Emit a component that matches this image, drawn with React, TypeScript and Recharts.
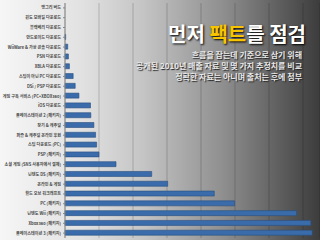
import React from "react";
import { BarChart, Bar, XAxis, YAxis, CartesianGrid } from "recharts";

const categories = [
  "앵그리 버드",
  "윈도 모바일 다운로드",
  "블랙베리 다운로드",
  "안드로이드 다운로드",
  "WiiWare & 가상 콘솔 다운로드",
  "PSN 다운로드",
  "XBLA 다운로드",
  "스팀이 아닌 PC 다운로드",
  "DSi / PSP 다운로드",
  "게임 구독 서비스 (PC+XBOX360)",
  "iOS 다운로드",
  "플레이스테이션 2 (패키지)",
  "장기 & 캐주얼",
  "퍼즐 & 캐주얼 온라인 후원",
  "스팀 다운로드 (PC)",
  "PSP (패키지)",
  "소셜 게임 (SNS 사용자에서 결제)",
  "닌텐도 DS (패키지)",
  "온라인 & 게임",
  "월드 오브 워크래프트",
  "PC (패키지)",
  "닌텐도 Wii (패키지)",
  "Xbox360 (패키지)",
  "플레이스테이션 3 (패키지)",
];

const values = [
  0, 0, 0, 0.02, 0.08, 0.1, 0.13, 0.24, 0.3, 0.41, 0.75, 0.76, 0.85, 0.9,
  0.93, 1.0, 1.5, 2.55, 3.02, 4.39, 4.99, 6.81, 7.23, 7.27,
];

const xTicks = [0, 1, 2, 3, 4, 5, 6, 7];

const data = categories.map((name, i) => ({ name, value: values[i] }));

const CatTick = (props: any) => {
  const { x, y, payload } = props;
  return (
    <text
      x={x}
      y={y}
      dy={1.5}
      textAnchor="end"
      fontSize={4.1}
      fontWeight={700}
      fill="#4a4a4a"
      fontFamily="'Noto Sans CJK KR', sans-serif"
    >
      {payload.value}
    </text>
  );
};

export default function App() {
  return (
    <div
      style={{
        position: "absolute",
        left: 0,
        top: 0,
        width: 320,
        height: 240,
        overflow: "hidden",
        background:
          "linear-gradient(to right, #f6f6f6 0%, #e2e2e2 25%, #c4c4c4 45%, #8e8e8e 70%, #3c3c3c 100%)",
        fontFamily: "'Noto Sans CJK KR', sans-serif",
      }}
    >
      <BarChart
        width={320}
        height={240}
        data={data}
        layout="vertical"
        margin={{ top: 3, right: 0, bottom: 2, left: 0 }}
        barCategoryGap={0}
      >
        <CartesianGrid
          horizontal={false}
          vertical={true}
          stroke="#000"
          strokeOpacity={0.18}
        />
        <XAxis type="number" domain={[0, 7.5]} ticks={xTicks} hide />
        <YAxis
          type="category"
          dataKey="name"
          width={65}
          interval={0}
          tick={<CatTick />}
          tickSize={2}
          stroke="#888"
        />
        <Bar
          dataKey="value"
          fill="#3a6cab"
          stroke="#2a4f80"
          strokeWidth={0.6}
          barSize={5}
          isAnimationActive={false}
        />
      </BarChart>
      <div
        style={{
          position: "absolute",
          right: 14,
          top: 22,
          fontSize: 20,
          fontWeight: 700,
          color: "#ffffff",
          textShadow: "1px 1px 2px #000",
          whiteSpace: "nowrap",
          lineHeight: "24px",
        }}
      >
        먼저 <span style={{ color: "#f7c400" }}>팩트</span>를 점검
      </div>
      <div
        style={{
          position: "absolute",
          right: 18,
          top: 49,
          fontSize: 8,
          fontWeight: 700,
          color: "#e8e8e8",
          textShadow: "1px 1px 1px #222",
          whiteSpace: "nowrap",
          textAlign: "right",
          lineHeight: "11px",
        }}
      >
        흐름을 잡는데 기준으로 삼기 위해
        <br />
        공개된 2010년 매출 자료 및 몇 가지 추정치를 비교
        <br />
        정확한 자료는 아니며 출처는 후에 첨부
      </div>
    </div>
  );
}
